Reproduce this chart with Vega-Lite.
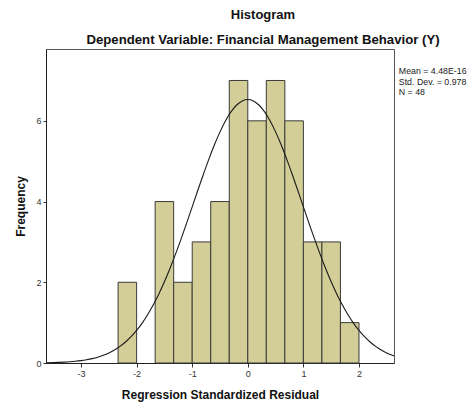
{
  "$schema": "https://vega.github.io/schema/vega-lite/v6.json",
  "width": 348,
  "height": 314,
  "autosize": {"type": "none"},
  "padding": {"left": 46, "top": 49, "right": 74, "bottom": 41},
  "background": "white",
  "config": {
    "font": "Liberation Sans",
    "view": {"fill": "#F0F0F0", "stroke": "#555555", "strokeWidth": 1},
    "axis": {
      "grid": false,
      "labelFont": "Liberation Sans",
      "labelFontSize": 9,
      "labelColor": "#333333",
      "tickSize": 4,
      "tickColor": "#333333",
      "domainColor": "#222222",
      "titleFont": "Liberation Sans",
      "titleFontSize": 12,
      "titleFontWeight": "bold",
      "titleColor": "#111111"
    }
  },
  "title": {
    "text": "Histogram",
    "subtitle": "Dependent Variable: Financial Management Behavior (Y)",
    "anchor": "middle",
    "dx": 43,
    "font": "Liberation Sans",
    "fontSize": 13,
    "fontWeight": "bold",
    "color": "#111111",
    "subtitleFont": "Liberation Sans",
    "subtitleFontSize": 13.2,
    "subtitleFontWeight": "bold",
    "subtitleColor": "#111111",
    "subtitlePadding": 12,
    "offset": 3
  },
  "datasets": {
    "bars": [
      {"lo": -2.3333, "hi": -2.0, "count": 2},
      {"lo": -2.0, "hi": -1.6667, "count": 0},
      {"lo": -1.6667, "hi": -1.3333, "count": 4},
      {"lo": -1.3333, "hi": -1.0, "count": 2},
      {"lo": -1.0, "hi": -0.6667, "count": 3},
      {"lo": -0.6667, "hi": -0.3333, "count": 4},
      {"lo": -0.3333, "hi": 0.0, "count": 7},
      {"lo": 0.0, "hi": 0.3333, "count": 6},
      {"lo": 0.3333, "hi": 0.6667, "count": 7},
      {"lo": 0.6667, "hi": 1.0, "count": 6},
      {"lo": 1.0, "hi": 1.3333, "count": 3},
      {"lo": 1.3333, "hi": 1.6667, "count": 3},
      {"lo": 1.6667, "hi": 2.0, "count": 1}
    ],
    "curve": [
      {"x": -3.63, "y": 0.0067}, {"x": -3.6, "y": 0.0075}, {"x": -3.5, "y": 0.0108},
      {"x": -3.4, "y": 0.0155}, {"x": -3.3, "y": 0.022}, {"x": -3.2, "y": 0.0309},
      {"x": -3.1, "y": 0.043}, {"x": -3.0, "y": 0.0591}, {"x": -2.9, "y": 0.0805},
      {"x": -2.8, "y": 0.108}, {"x": -2.7, "y": 0.144}, {"x": -2.6, "y": 0.191},
      {"x": -2.5, "y": 0.249}, {"x": -2.4, "y": 0.321}, {"x": -2.3, "y": 0.411},
      {"x": -2.2, "y": 0.52}, {"x": -2.1, "y": 0.651}, {"x": -2.0, "y": 0.806},
      {"x": -1.9, "y": 0.989}, {"x": -1.8, "y": 1.2}, {"x": -1.7, "y": 1.441},
      {"x": -1.6, "y": 1.712}, {"x": -1.5, "y": 2.013}, {"x": -1.4, "y": 2.343},
      {"x": -1.3, "y": 2.698}, {"x": -1.2, "y": 3.075}, {"x": -1.1, "y": 3.467},
      {"x": -1.0, "y": 3.87}, {"x": -0.9, "y": 4.274}, {"x": -0.8, "y": 4.671},
      {"x": -0.7, "y": 5.052}, {"x": -0.6, "y": 5.407}, {"x": -0.5, "y": 5.727},
      {"x": -0.4, "y": 6.003}, {"x": -0.3, "y": 6.227}, {"x": -0.2, "y": 6.392},
      {"x": -0.1, "y": 6.493}, {"x": 0.0, "y": 6.527}, {"x": 0.1, "y": 6.493},
      {"x": 0.2, "y": 6.392}, {"x": 0.3, "y": 6.227}, {"x": 0.4, "y": 6.003},
      {"x": 0.5, "y": 5.727}, {"x": 0.6, "y": 5.407}, {"x": 0.7, "y": 5.052},
      {"x": 0.8, "y": 4.671}, {"x": 0.9, "y": 4.274}, {"x": 1.0, "y": 3.87},
      {"x": 1.1, "y": 3.467}, {"x": 1.2, "y": 3.075}, {"x": 1.3, "y": 2.698},
      {"x": 1.4, "y": 2.343}, {"x": 1.5, "y": 2.013}, {"x": 1.6, "y": 1.712},
      {"x": 1.7, "y": 1.441}, {"x": 1.8, "y": 1.2}, {"x": 1.9, "y": 0.989},
      {"x": 2.0, "y": 0.806}, {"x": 2.1, "y": 0.651}, {"x": 2.2, "y": 0.52},
      {"x": 2.3, "y": 0.411}, {"x": 2.4, "y": 0.321}, {"x": 2.5, "y": 0.249},
      {"x": 2.6, "y": 0.191}, {"x": 2.63, "y": 0.176}
    ],
    "stats": [
      {"label": "Mean = 4.48E-16"},
      {"label": "Std. Dev. = 0.978"},
      {"label": "N = 48"}
    ]
  },
  "layer": [
    {
      "data": {"name": "bars"},
      "mark": {"type": "rect", "fill": "#D3CE98", "stroke": "#3A3A3A", "strokeWidth": 1},
      "transform": [{"filter": "datum.count > 0"}],
      "encoding": {
        "x": {
          "field": "lo", "type": "quantitative",
          "scale": {"domain": [-3.63, 2.63], "nice": false, "zero": false},
          "axis": {"values": [-3, -2, -1, 0, 1, 2], "labelExpr": "'' + datum.value", "title": "Regression Standardized Residual", "titlePadding": 11, "labelPadding": 2}
        },
        "x2": {"field": "hi"},
        "y": {
          "field": "count", "type": "quantitative",
          "scale": {"domain": [0, 7.78], "nice": false},
          "axis": {"values": [0, 2, 4, 6], "title": "Frequency", "titlePadding": 8, "labelPadding": 2, "tickSize": 3}
        },
        "y2": {"datum": 0}
      }
    },
    {
      "data": {"name": "curve"},
      "mark": {"type": "line", "color": "#1A1A1A", "strokeWidth": 1.1, "interpolate": "monotone"},
      "encoding": {
        "x": {"field": "x", "type": "quantitative"},
        "y": {"field": "y", "type": "quantitative"}
      }
    },
    {
      "data": {"name": "stats"},
      "mark": {"type": "point", "opacity": 0},
      "encoding": {
        "color": {
          "field": "label", "type": "nominal",
          "scale": {"domain": ["Mean = 4.48E-16", "Std. Dev. = 0.978", "N = 48"], "range": ["#000000", "#000000", "#000000"]},
          "legend": {
            "title": null,
            "orient": "none",
            "legendX": 344,
            "legendY": 18,
            "symbolSize": 0,
            "symbolStrokeWidth": 0,
            "symbolOpacity": 0,
            "labelOffset": 0,
            "labelLimit": 200,
            "labelFont": "Liberation Sans",
            "labelFontSize": 8.8,
            "labelColor": "#222222",
            "rowPadding": 0.3,
            "padding": 0
          }
        }
      }
    }
  ]
}
